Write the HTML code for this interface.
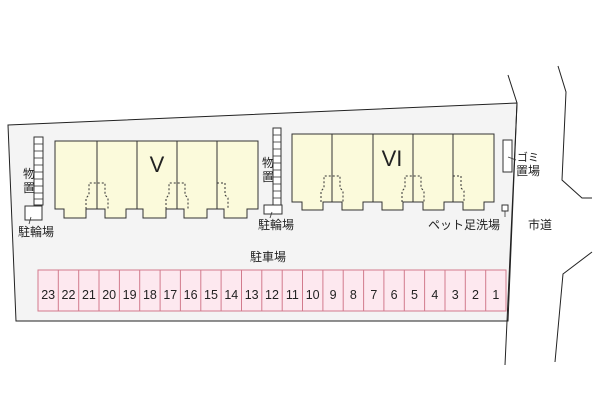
<!DOCTYPE html>
<html><head><meta charset="utf-8"><style>
html,body{margin:0;padding:0;background:#fff}
svg text{font-family:"Liberation Sans","Noto Sans CJK JP",sans-serif;fill:#222}
</style></head><body>
<svg width="600" height="400" viewBox="0 0 600 400" xmlns="http://www.w3.org/2000/svg">
<!-- lot -->
<polygon points="8,125 517,103 508,321 16,321" fill="#f4f4f4" stroke="#222" stroke-width="1"/>
<polyline points="508,75 517,103 505,365" fill="none" stroke="#222"/>
<!-- road -->
<polyline points="558,66 566,92 562,180 582,198 592,198" fill="none" stroke="#222"/>
<polyline points="592,252 563,274 555,362" fill="none" stroke="#222"/>
<!-- building V -->
<g fill="#fbfadb" stroke="#333" stroke-width="1">
<path d="M55,141 H258 V209 H247 V218 H224 V209 H207 V218 H184 V209 H166 V218 H143 V209 H126 V218 H105 V209 H86 V218 H64 V209 H55 Z"/>
<path d="M292,134 H494 V202 H484 V210 H463 V202 H444 V210 H423 V202 H403 V210 H382 V202 H363 V210 H342 V202 H323 V210 H302 V202 H292 Z"/>
</g>
<g stroke="#333" stroke-width="1">
<line x1="97" y1="141" x2="97" y2="209"/><line x1="137" y1="141" x2="137" y2="209"/><line x1="177" y1="141" x2="177" y2="209"/><line x1="217" y1="141" x2="217" y2="209"/>
<line x1="332" y1="134" x2="332" y2="202"/><line x1="373" y1="134" x2="373" y2="202"/><line x1="413" y1="134" x2="413" y2="202"/><line x1="453" y1="134" x2="453" y2="202"/>
</g>
<g fill="none" stroke="#333" stroke-dasharray="2,2" stroke-width="1">
<path d="M86,209 V198 L89,195 V183 H105 V195 L108,198 V209"/>
<path d="M166,209 V198 L169,195 V183 H185 V195 L188,198 V209"/>
<path d="M217,183 H225 V195 L228,198 V209"/>
<path d="M321,202 V191 L324,188 V176 H340 V188 L343,191 V202"/>
<path d="M402,202 V191 L405,188 V176 H421 V188 L424,191 V202"/>
<path d="M453,176 H461 V188 L464,191 V202"/>
</g>
<text x="157" y="172" font-size="22" text-anchor="middle">V</text>
<text x="392" y="166" font-size="22" text-anchor="middle">VI</text>
<!-- storages -->
<g fill="#fff" stroke="#333" stroke-width="1">
<rect x="34" y="137" width="9" height="68"/>
<rect x="25" y="206" width="17" height="14"/>
<rect x="273" y="128" width="8" height="80"/>
<rect x="264" y="205" width="18" height="9"/>
<rect x="503" y="140" width="9" height="32"/>
<rect x="502" y="205" width="6" height="6"/>
</g>
<g stroke="#333" stroke-width="0.8">
<line x1="34" y1="144" x2="43" y2="144"/><line x1="34" y1="151" x2="43" y2="151"/><line x1="34" y1="158" x2="43" y2="158"/><line x1="34" y1="165" x2="43" y2="165"/><line x1="34" y1="172" x2="43" y2="172"/><line x1="34" y1="179" x2="43" y2="179"/><line x1="34" y1="186" x2="43" y2="186"/><line x1="34" y1="193" x2="43" y2="193"/><line x1="34" y1="199" x2="43" y2="199"/>
<line x1="273" y1="135" x2="281" y2="135"/><line x1="273" y1="142" x2="281" y2="142"/><line x1="273" y1="149" x2="281" y2="149"/><line x1="273" y1="156" x2="281" y2="156"/><line x1="273" y1="163" x2="281" y2="163"/><line x1="273" y1="170" x2="281" y2="170"/><line x1="273" y1="177" x2="281" y2="177"/><line x1="273" y1="184" x2="281" y2="184"/><line x1="273" y1="191" x2="281" y2="191"/><line x1="273" y1="198" x2="281" y2="198"/>
<line x1="31" y1="217" x2="29" y2="224"/><line x1="272" y1="212" x2="270" y2="218"/>
<line x1="508" y1="157" x2="516" y2="160"/><line x1="505" y1="211" x2="505" y2="217"/>
</g>
<g font-size="12">
<text x="23" y="178">物</text><text x="23" y="192">置</text>
<text x="18" y="236">駐輪場</text>
<text x="262" y="167">物</text><text x="262" y="181">置</text>
<text x="258" y="229">駐輪場</text>
<text x="517" y="161" font-size="11">ゴミ</text><text x="516" y="175">置場</text>
<text x="428" y="229">ペット足洗場</text>
<text x="528" y="229">市道</text>
<text x="250" y="261">駐車場</text>
</g>
<!-- parking -->
<g id="pk"></g>
<rect x="38" y="270" width="468" height="41" fill="#fde8ef" stroke="#d27a8c"/>
<g stroke="#d27a8c" stroke-width="1">
<line x1="58.3" y1="270" x2="58.3" y2="311"/><line x1="78.7" y1="270" x2="78.7" y2="311"/><line x1="99" y1="270" x2="99" y2="311"/><line x1="119.4" y1="270" x2="119.4" y2="311"/><line x1="139.7" y1="270" x2="139.7" y2="311"/><line x1="160.1" y1="270" x2="160.1" y2="311"/><line x1="180.4" y1="270" x2="180.4" y2="311"/><line x1="200.8" y1="270" x2="200.8" y2="311"/><line x1="221.1" y1="270" x2="221.1" y2="311"/><line x1="241.5" y1="270" x2="241.5" y2="311"/><line x1="261.8" y1="270" x2="261.8" y2="311"/><line x1="282.2" y1="270" x2="282.2" y2="311"/><line x1="302.5" y1="270" x2="302.5" y2="311"/><line x1="322.9" y1="270" x2="322.9" y2="311"/><line x1="343.2" y1="270" x2="343.2" y2="311"/><line x1="363.6" y1="270" x2="363.6" y2="311"/><line x1="383.9" y1="270" x2="383.9" y2="311"/><line x1="404.3" y1="270" x2="404.3" y2="311"/><line x1="424.6" y1="270" x2="424.6" y2="311"/><line x1="445" y1="270" x2="445" y2="311"/><line x1="465.3" y1="270" x2="465.3" y2="311"/><line x1="485.7" y1="270" x2="485.7" y2="311"/>
</g>
<g font-size="12.5" text-anchor="middle">
<text x="48.2" y="299">23</text><text x="68.5" y="299">22</text><text x="88.9" y="299">21</text><text x="109.2" y="299">20</text><text x="129.6" y="299">19</text><text x="149.9" y="299">18</text><text x="170.3" y="299">17</text><text x="190.6" y="299">16</text><text x="211" y="299">15</text><text x="231.3" y="299">14</text><text x="251.7" y="299">13</text><text x="272" y="299">12</text><text x="292.4" y="299">11</text><text x="312.7" y="299">10</text><text x="333.1" y="299">9</text><text x="353.4" y="299">8</text><text x="373.8" y="299">7</text><text x="394.1" y="299">6</text><text x="414.5" y="299">5</text><text x="434.8" y="299">4</text><text x="455.2" y="299">3</text><text x="475.5" y="299">2</text><text x="495.9" y="299">1</text>
</g>
</svg>
</body></html>
